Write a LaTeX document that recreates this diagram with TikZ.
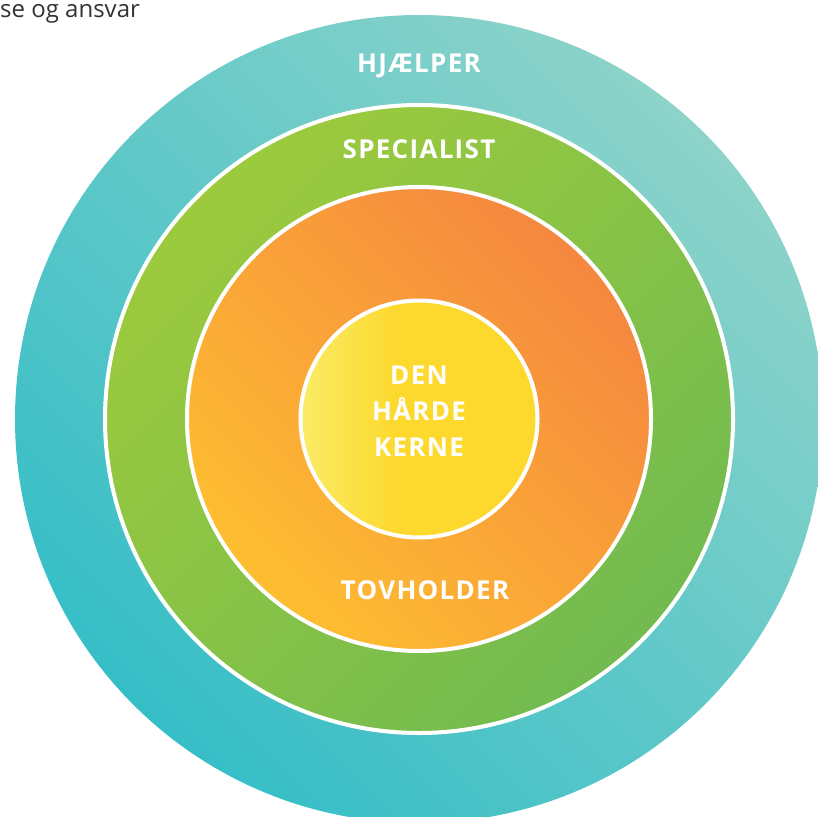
\documentclass[tikz,border=0pt]{standalone}
\usepackage{fontspec}
\setmainfont{Open Sans}
\newfontfamily\ringfont[LetterSpace=5]{Open Sans}
\usepackage{xcolor}
\usetikzlibrary{positioning}

\definecolor{tealdark}{HTML}{36BEC7}
\definecolor{teallight}{HTML}{8DD3C9}
\definecolor{greenlight}{HTML}{9DCA3D}
\definecolor{greendark}{HTML}{72BB50}
\definecolor{orangedark}{HTML}{F5873F}
\definecolor{orangelight}{HTML}{FEBE31}
\definecolor{yellowlight}{HTML}{F9EC66}
\definecolor{yellowdark}{HTML}{FDD92E}
\definecolor{captiongray}{HTML}{333333}

\pgfdeclarehorizontalshading{kerneshade}{100bp}{color(0bp)=(yellowlight); color(25bp)=(yellowlight); color(45bp)=(yellowdark); color(100bp)=(yellowdark)}

\tikzset{
  ring/.style={circle, inner sep=0pt, outer sep=0pt},
  rim/.style={draw=white, line width=4pt},
  ringlabel/.style={text=white, font=\ringfont\bfseries\fontsize{26}{36}\selectfont, align=center, inner sep=0pt}
}

\begin{document}
\begin{tikzpicture}[x=1pt, y=-1pt]
\useasboundingbox (0,0) rectangle (818,816);
\clip (0,0) rectangle (818,816);
\coordinate (c) at (419,419);

% rings, outside in
\node[ring, minimum size=808pt, shade, shading=axis, top color=teallight, bottom color=tealdark, shading angle=-45] (hjaelper) at (c) {};
\node[ring, rim, minimum size=628pt, shade, shading=axis, top color=greenlight, bottom color=greendark, shading angle=45] (specialist) at (c) {};
\node[ring, rim, minimum size=464pt, shade, shading=axis, top color=orangedark, bottom color=orangelight, shading angle=-45] (tovholder) at (c) {};
\node[ring, rim, minimum size=237pt, shade, shading=kerneshade] (kerne) at (c) {};

% labels
\node[ringlabel] (hjaelperlabel) at (419,66) {HJÆLPER};
\node[ringlabel] (specialistlabel) at (419,149) {SPECIALIST};
\node[ringlabel] (tovholderlabel) at (425,590) {TOVHOLDER};
\node[ringlabel] (kernelabel) at (419,411) {DEN\\HÅRDE\\KERNE};

\node[anchor=base west, text=captiongray, font=\fontsize{24}{28}\selectfont, inner sep=0pt] (caption) at (0,18) {se og ansvar};
\end{tikzpicture}
\end{document}
